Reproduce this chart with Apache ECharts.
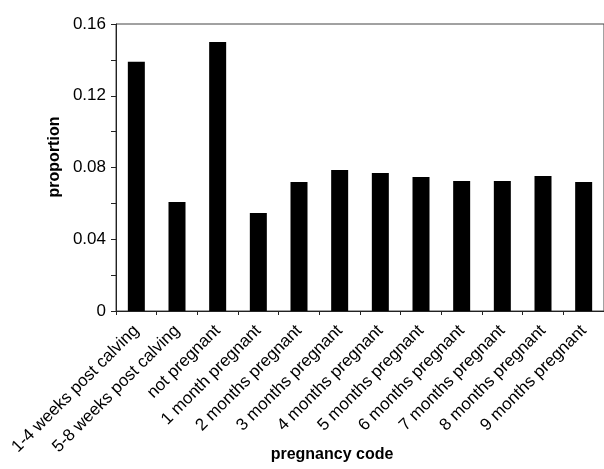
<!DOCTYPE html>
<html>
<head>
<meta charset="utf-8">
<script src="https://cdn.jsdelivr.net/npm/echarts@6/dist/echarts.min.js"></script>
<style>
  html, body { margin: 0; padding: 0; background: #fff; }
  #chart { width: 604px; height: 469px; }
</style>
</head>
<body>
<div id="chart"></div>
<script>
const categories = [
    '1-4 weeks post calving', '5-8 weeks post calving', 'not pregnant',
    '1 month pregnant', '2 months pregnant', '3 months pregnant',
    '4 months pregnant', '5 months pregnant', '6 months pregnant',
    '7 months pregnant', '8 months pregnant', '9 months pregnant',
];
const proportions = [0.139, 0.0608, 0.150, 0.0546, 0.0719, 0.0786, 0.0769, 0.0747, 0.0725, 0.0725, 0.0753, 0.0719];
const yTickLabels = ['0', '0.04', '0.08', '0.12', '0.16'];

const chart = echarts.init(document.getElementById('chart'));
const font = 'Liberation Sans, Arial, sans-serif';

chart.setOption({
    animation: false,
    grid: {
        left: 116, top: 24, right: -6, bottom: 158,
        show: true, borderColor: '#444', borderWidth: 1,
    },
    xAxis: {
        type: 'category',
        data: categories,
        axisLine: { lineStyle: { color: '#222', width: 1 } },
        axisTick: { show: true, length: 4, lineStyle: { color: '#222' } },
        axisLabel: {
            interval: 0, rotate: 45, margin: 17,
            color: '#000', fontFamily: font, fontSize: 17,
        },
    },
    yAxis: {
        type: 'value',
        min: 0, max: 0.16, interval: 0.02,
        splitLine: { show: false },
        axisLine: { show: true, lineStyle: { color: '#222', width: 1 } },
        axisTick: { show: true, length: 5, lineStyle: { color: '#222' } },
        axisLabel: {
            margin: 10, color: '#000', fontFamily: font, fontSize: 17,
            formatter: v => {
                const i = Math.round(v / 0.04 * 1000) / 1000;
                return Number.isInteger(i) ? yTickLabels[i] : '';
            },
        },
    },
    graphic: [
        {
            type: 'text', x: 55, y: 157, rotation: Math.PI / 2,
            style: {
                text: 'proportion', fill: '#000', font: 'bold 16px ' + font,
                align: 'center', verticalAlign: 'middle',
            },
        },
        {
            type: 'text', x: 332, y: 455,
            style: {
                text: 'pregnancy code', fill: '#000', font: 'bold 16px ' + font,
                align: 'center', verticalAlign: 'middle',
            },
        },
    ],
    series: [{
        type: 'bar',
        data: proportions,
        barWidth: 17,
        itemStyle: { color: '#000' },
    }],
});
</script>
</body>
</html>
